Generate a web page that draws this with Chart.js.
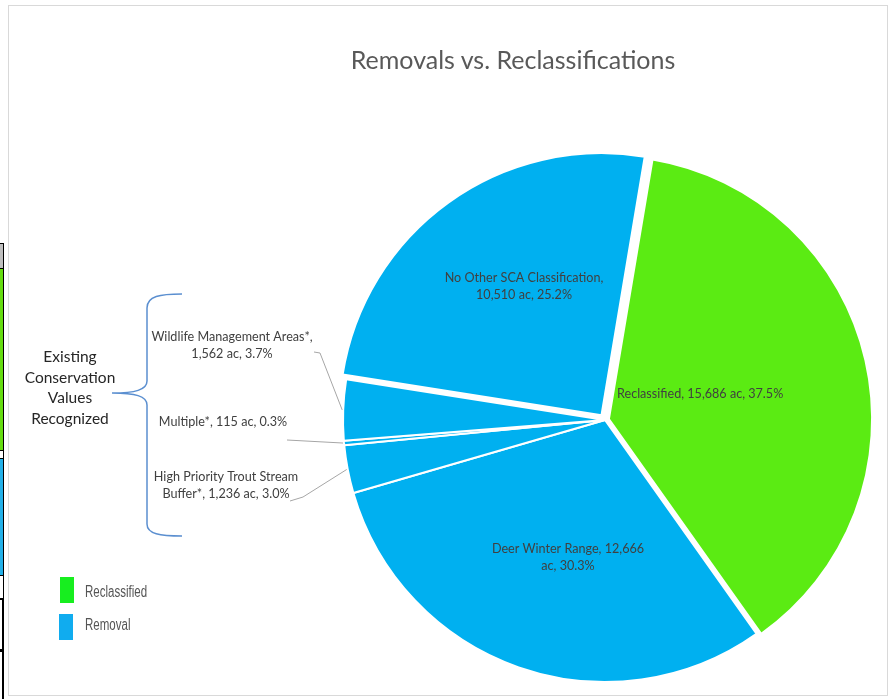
<!DOCTYPE html>
<html>
<head>
<meta charset="utf-8">
<script src="https://cdn.jsdelivr.net/npm/chart.js@4"></script>
<style>
  html, body { margin: 0; padding: 0; background: #fff; }
  body { width: 894px; height: 699px; position: relative; overflow: hidden; }
  #frame { position: absolute; left: 8px; top: 5px; width: 880px; height: 691px; border: 1px solid #d9d9d9; box-sizing: border-box; }
  #wrap { position: absolute; left: 0; top: 0; width: 894px; height: 699px; }
  #title { position: absolute; left: 313px; top: 44px; width: 400px; text-align: center; font-family: Lato, "Open Sans", sans-serif; font-size: 25px; line-height: 30px; color: #595959; white-space: nowrap; }
  #group { position: absolute; left: 5px; top: 346px; width: 130px; text-align: center; font-family: Lato, "Open Sans", sans-serif; font-size: 15.5px; line-height: 20.7px; color: #262626; }
  #brace { position: absolute; left: 0; top: 0; }
  .sw { position: absolute; width: 14px; height: 26px; }
  .lt { position: absolute; font-family: "Liberation Sans", sans-serif; font-size: 16px; line-height: 20px; color: #555; white-space: nowrap; transform: scaleX(0.72); transform-origin: 0 50%; }
  .strip { position: absolute; left: 0; width: 4px; box-sizing: border-box; border: 1px solid #000; border-left: none; }
</style>
</head>
<body>
<div id="frame"></div>
<!-- cropped neighbouring table at left edge -->
<div class="strip" style="top:243px;height:26px;background:#bfbfbf"></div>
<div class="strip" style="top:268px;height:183px;background:#66dd11"></div>
<div class="strip" style="top:450px;height:9px;background:#fff"></div>
<div class="strip" style="top:458px;height:118px;background:#22b0e8"></div>
<div class="strip" style="top:575px;height:24px;background:#fff"></div>
<div class="strip" style="top:598px;height:53px;background:#fff;border-width:2px"></div>
<div class="strip" style="top:650px;height:60px;background:#fff;border-width:2px"></div>

<div id="wrap"><canvas id="c" width="894" height="699"></canvas></div>
<div id="title">Removals vs. Reclassifications</div>
<div id="group">Existing<br>Conservation<br>Values<br>Recognized</div>
<svg id="brace" width="894" height="699">
  <path d="M182,294 C160,294 147,296 147,308 L147,381 C147,390 135,393 112,393 C135,393 147,396 147,405 L147,524 C147,534 160,536 182,536" fill="none" stroke="#5b8fd0" stroke-width="1.5"/>
</svg>
<div id="legend"></div>

<script>
// ---- data ----
const categories = ['Reclassified', 'Deer Winter Range', 'High Priority Trout Stream Buffer*', 'Multiple*', 'Wildlife Management Areas*', 'No Other SCA Classification'];
const acres = [15686, 12666, 1236, 115, 1562, 10510];
const percents = [37.5, 30.3, 3.0, 0.3, 3.7, 25.2];
const groups = ['Reclassified', 'Removal', 'Removal', 'Removal', 'Removal', 'Removal'];
const legendLabels = ['Reclassified', 'Removal'];
// words on first line of each data label (0 = single line)
const wrapAfter = [0, 4, 4, 0, 3, 4];

// ---- styling / layout ----
const groupColors = { 'Reclassified': '#5beb13', 'Removal': '#00b0f0' };
const legendSwatch = { 'Reclassified': '#17ee1f', 'Removal': '#10acef' };
const sliceOffsets = [16, 0, 0, 0, 0, 24];
const labelPos = [
  { x: 617, y: 394, align: 'left' },
  { x: 568, y: 549, align: 'center' },
  { x: 226, y: 477, align: 'center', leader: [[290, 501], [303, 497]] },
  { x: 223, y: 422, align: 'center', leader: [[287, 440]] },
  { x: 232, y: 337, align: 'center', leader: [[314, 352], [320, 353]] },
  { x: 524, y: 278, align: 'center' }
];

function labelLines(i) {
  const txt = categories[i] + ', ' + acres[i].toLocaleString('en-US') + ' ac, ' + percents[i].toFixed(1) + '%';
  if (!wrapAfter[i]) return [txt];
  const w = txt.split(' ');
  return [w.slice(0, wrapAfter[i]).join(' '), w.slice(wrapAfter[i]).join(' ')];
}

// legend (html)
const legendEl = document.getElementById('legend');
legendLabels.forEach((name, k) => {
  const sw = document.createElement('div');
  sw.className = 'sw';
  sw.style.left = (60 - k) + 'px';
  sw.style.top = (577 + k * 37) + 'px';
  sw.style.background = legendSwatch[name];
  legendEl.appendChild(sw);
  const t = document.createElement('div');
  t.className = 'lt';
  t.style.left = '85px';
  t.style.top = (582 + k * 33) + 'px';
  t.textContent = name;
  legendEl.appendChild(t);
});

const labelPlugin = {
  id: 'sliceLabels',
  afterDatasetsDraw(chart) {
    const ctx = chart.ctx;
    const meta = chart.getDatasetMeta(0);
    ctx.save();
    meta.data.forEach((arc, i) => {
      const p = labelPos[i];
      if (p.leader) {
        const { x, y, startAngle, endAngle, outerRadius } = arc.getProps(['x', 'y', 'startAngle', 'endAngle', 'outerRadius'], true);
        const mid = (startAngle + endAngle) / 2;
        const ex = x + Math.cos(mid) * (outerRadius + 1);
        const ey = y + Math.sin(mid) * (outerRadius + 1);
        ctx.strokeStyle = '#a6a6a6';
        ctx.lineWidth = 1;
        ctx.beginPath();
        ctx.moveTo(p.leader[0][0], p.leader[0][1]);
        for (let k = 1; k < p.leader.length; k++) ctx.lineTo(p.leader[k][0], p.leader[k][1]);
        ctx.lineTo(ex, ey);
        ctx.stroke();
      }
      ctx.fillStyle = '#404040';
      ctx.font = '12.6px Lato, "Open Sans", sans-serif';
      ctx.textAlign = p.align;
      ctx.textBaseline = 'middle';
      labelLines(i).forEach((ln, k) => ctx.fillText(ln, p.x, p.y + k * 17));
    });
    ctx.restore();
  }
};

new Chart(document.getElementById('c'), {
  type: 'pie',
  data: {
    labels: categories,
    datasets: [{
      data: acres,
      backgroundColor: groups.map(g => groupColors[g]),
      borderColor: '#ffffff',
      borderWidth: 2,
      offset: sliceOffsets,
      clip: false
    }]
  },
  options: {
    responsive: false,
    animation: false,
    events: [],
    rotation: 9.5,
    radius: 262,
    layout: { padding: { left: 330, right: 14, top: 145, bottom: 4 } },
    plugins: { legend: { display: false }, tooltip: { enabled: false }, title: { display: false } }
  },
  plugins: [labelPlugin]
});
</script>
</body>
</html>
